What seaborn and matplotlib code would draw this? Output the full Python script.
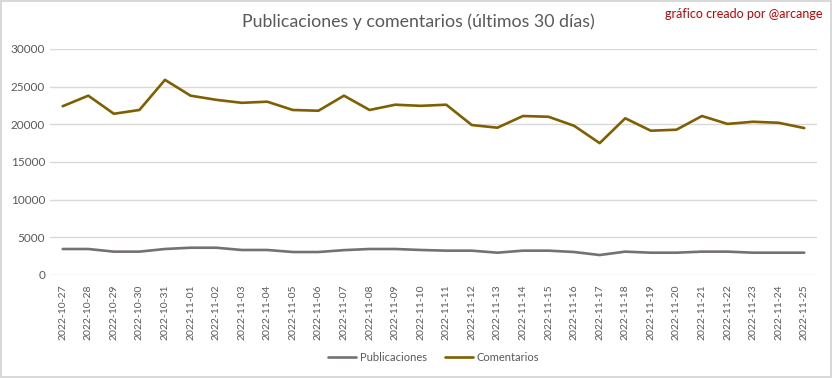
import pandas as pd
import matplotlib.pyplot as plt
import seaborn as sns

# Daily counts, last 30 days
fechas = pd.date_range('2022-10-27', '2022-11-25').strftime('%Y-%m-%d').tolist()
publicaciones = [3450, 3450, 3100, 3100, 3450, 3620, 3620, 3320, 3320, 3050,
                 3050, 3300, 3450, 3450, 3320, 3230, 3230, 2960, 3230, 3230,
                 3050, 2650, 3100, 2960, 2960, 3100, 3100, 2960, 2960, 2960]
comentarios = [22400, 23800, 21400, 21900, 25900, 23800, 23250, 22850, 23000, 21900,
               21800, 23800, 21900, 22600, 22450, 22600, 19900, 19550, 21100, 21000,
               19800, 17500, 20800, 19150, 19280, 21100, 20050, 20340, 20200, 19500]

df = pd.DataFrame({'fecha': fechas, 'Publicaciones': publicaciones, 'Comentarios': comentarios})
df = df.melt(id_vars='fecha', var_name='serie', value_name='valor')

sns.set_style('white')
plt.rcParams['font.family'] = ['Lato', 'DejaVu Sans']

fig = plt.figure(figsize=(8.32, 3.78), dpi=100)
fig.patch.set_edgecolor('#d9d9d9')
fig.patch.set_linewidth(1.5)
ax = fig.add_axes([0.060, 0.2725, 0.922, 0.598])

sns.lineplot(data=df, x='fecha', y='valor', hue='serie', sort=False,
             palette={'Publicaciones': '#767171', 'Comentarios': '#7f6000'},
             linewidth=1.9, ax=ax)

ax.set_xlim(-0.5, len(fechas) - 0.5)
ax.set_ylim(0, 30000)
ax.set_yticks(range(0, 30001, 5000))
ax.grid(axis='y', color='#d9d9d9', linewidth=1)
ax.set_axisbelow(True)
for s in ax.spines.values():
    s.set_visible(False)
ax.set_xlabel('')
ax.set_ylabel('')
ax.tick_params(axis='y', length=0, colors='#595959', labelsize=8.5)
ax.tick_params(axis='x', length=0, colors='#595959', labelsize=7.5, pad=7)
plt.setp(ax.get_xticklabels(), rotation=90)

fig.text(0.503, 0.942, 'Publicaciones y comentarios (últimos 30 días)',
         ha='center', va='center', fontsize=12.8, color='#595959')
fig.text(0.988, 0.963, 'gráfico creado por @arcange',
         ha='right', va='center', fontsize=9, color='#c00000')

ax.legend(loc='center', bbox_to_anchor=(0.5, -0.363), ncol=2, frameon=False,
          fontsize=8, labelcolor='#595959', handlelength=2.6, columnspacing=1.6,
          handletextpad=0.3)

fig.savefig('out.png', dpi=100)
